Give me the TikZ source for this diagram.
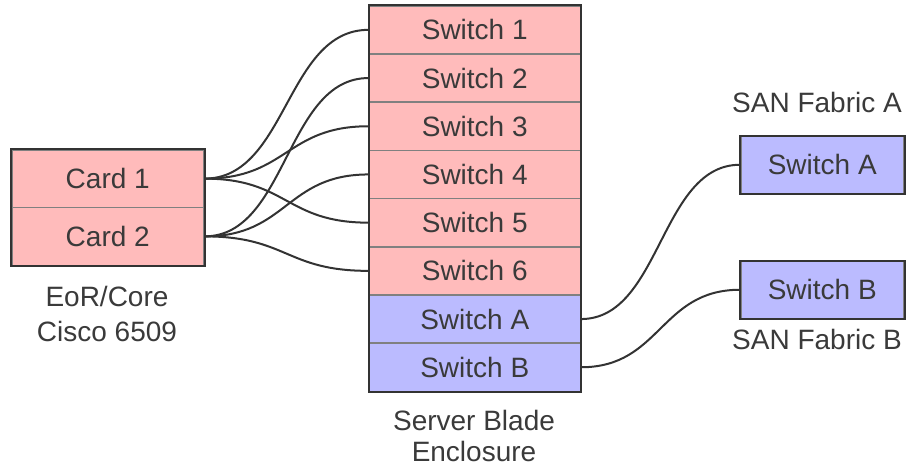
\documentclass[tikz,border=0pt]{standalone}
\usepackage{fontspec}
\setmainfont{Liberation Sans}
\definecolor{pinkfill}{HTML}{FFBBBB}
\definecolor{bluefill}{HTML}{BBBBFF}
\definecolor{edge}{HTML}{333333}
\definecolor{divider}{HTML}{808080}
\definecolor{txt}{HTML}{3A3A3A}
\begin{document}
\begin{tikzpicture}[x=1pt,y=-1pt,
  every node/.style={font=\fontsize{28}{32}\selectfont, text=txt},
  row/.style={draw=divider, line width=1.5pt, minimum width=211pt, minimum height=48.2pt, inner sep=0pt, anchor=north west},
  pinkrow/.style={row, fill=pinkfill},
  bluerow/.style={row, fill=bluefill},
  card/.style={draw=divider, line width=1.5pt, fill=pinkfill, minimum width=192pt, minimum height=57.75pt, inner sep=0pt, anchor=north west},
  sanbox/.style={draw=divider, line width=1.5pt, fill=bluefill, minimum width=163pt, minimum height=57pt, inner sep=0pt, anchor=north west},
  frame/.style={draw=edge, line width=2pt},
  wire/.style={draw=edge, line width=2pt},
  label/.style={anchor=base, inner sep=0pt}
]
\useasboundingbox (0,0) rectangle (909,467);

% left box
\node[card] (c1) at (11,149) {Card 1};
\node[card] (c2) at (11,206.75) {Card 2};
\draw[frame] (c1.north west) rectangle (c2.south east);

% stack
\node[pinkrow] (s1) at (368.5,5) {Switch 1};
\node[pinkrow] (s2) at (368.5,53.2) {Switch 2};
\node[pinkrow] (s3) at (368.5,101.4) {Switch 3};
\node[pinkrow] (s4) at (368.5,149.6) {Switch 4};
\node[pinkrow] (s5) at (368.5,197.8) {Switch 5};
\node[pinkrow] (s6) at (368.5,246) {Switch 6};
\node[bluerow] (sa) at (368.5,294.2) {Switch A};
\node[bluerow] (sb) at (368.5,342.4) {Switch B};
\draw[frame] (s1.north west) rectangle (sb.south east);

% SAN boxes
\node[sanbox] (fa) at (740,135.5) {Switch A};
\node[sanbox] (fb) at (740,260.5) {Switch B};
\draw[frame] (fa.north west) rectangle (fa.south east);
\draw[frame] (fb.north west) rectangle (fb.south east);

% wires
\foreach \s in {s1,s3,s5}
  \draw[wire] (c1.east) .. controls +(82.75,0) and +(-82.75,0) .. (\s.west);
\foreach \s in {s2,s4,s6}
  \draw[wire] (c2.east) .. controls +(82.75,0) and +(-82.75,0) .. (\s.west);
\draw[wire] (sa.east) .. controls +(80,0) and +(-80,0) .. (fa.west);
\draw[wire] (sb.east) .. controls +(80,0) and +(-80,0) .. (fb.west);

% labels
\node[label] (l1) at (107,306.7) {EoR/Core};
\node[label] (l2) at (107,341) {Cisco 6509};
\node[label] (l3) at (474,430) {Server Blade};
\node[label] (l4) at (474,461.7) {Enclosure};
\node[label] (l5) at (817,112) {SAN Fabric A};
\node[label] (l6) at (817,349.3) {SAN Fabric B};
\end{tikzpicture}
\end{document}
